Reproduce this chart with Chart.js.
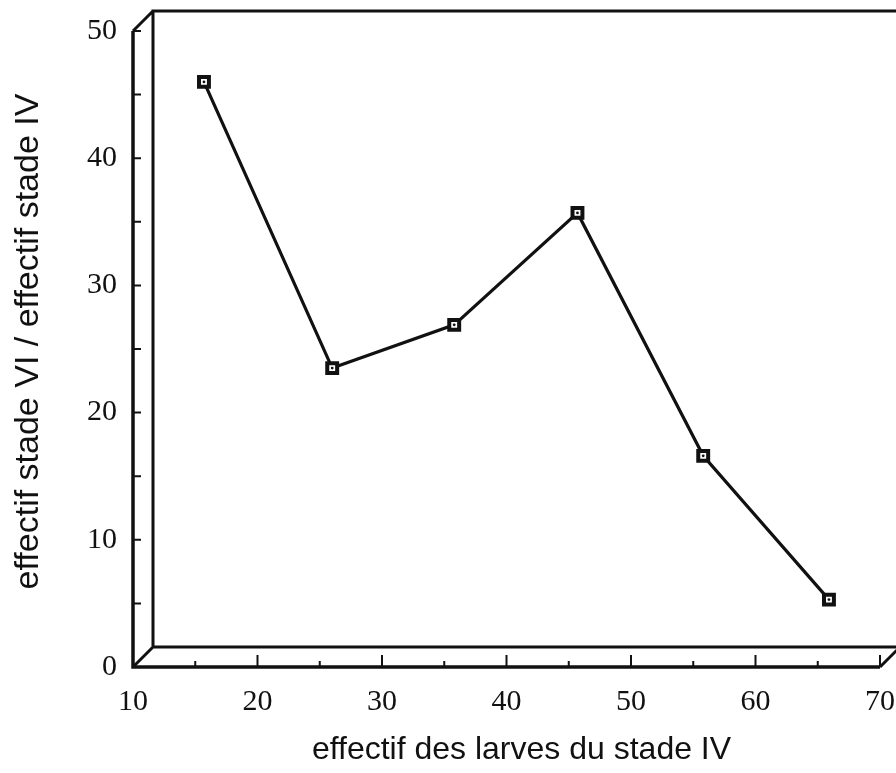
<!DOCTYPE html>
<html>
<head>
<meta charset="utf-8">
<script src="https://cdn.jsdelivr.net/npm/chart.js@4.4.0/dist/chart.umd.min.js"></script>
<style>
  html, body { margin: 0; padding: 0; background: #fff; }
  canvas { display: block; }
</style>
</head>
<body>
<canvas id="c" width="896" height="773"></canvas>
<script>
// Larval counts (stage IV) and the stage VI / stage IV ratio
const larvesIV = [15.7, 26.0, 35.8, 45.7, 55.8, 65.9];
const ratioVIsurIV = [46.0, 23.5, 26.9, 35.7, 16.6, 5.3];
const xTicks = [10, 20, 30, 40, 50, 60, 70];
const yTicks = [0, 10, 20, 30, 40, 50];
const xTitle = 'effectif des larves du stade IV';
const yTitle = 'effectif stade VI / effectif stade IV';

const INK = '#111';
const DEPTH = 20;

const points = larvesIV.map((x, i) => ({ x, y: ratioVIsurIV[i] }));

// midpoints between consecutive major ticks give the minor ticks
const minors = arr => arr.slice(1).map((v, i) => (v + arr[i]) / 2);

// Box frame in pseudo-3D with inward tick marks
const framePlugin = {
  id: 'frame',
  afterLayout(chart) {
    // centre the axis titles on the whole box, depth wall included
    chart.scales.x.right += 30;
    chart.scales.y.bottom -= 15;
  },
  beforeDatasetsDraw(chart) {
    const { ctx, chartArea: { left, right, top, bottom } } = chart;
    const xs = chart.scales.x, ys = chart.scales.y;
    const W = chart.width;
    ctx.save();
    ctx.strokeStyle = INK;
    ctx.lineCap = 'butt';

    // back wall and depth edges
    ctx.lineWidth = 3;
    ctx.beginPath();
    ctx.moveTo(left + DEPTH, bottom - DEPTH);
    ctx.lineTo(left + DEPTH, top - DEPTH);
    ctx.lineTo(W + 5, top - DEPTH);
    ctx.moveTo(left + DEPTH, bottom - DEPTH);
    ctx.lineTo(W + 5, bottom - DEPTH);
    ctx.moveTo(left, top);
    ctx.lineTo(left + DEPTH, top - DEPTH);
    ctx.moveTo(left, bottom);
    ctx.lineTo(left + DEPTH, bottom - DEPTH);
    ctx.moveTo(right, bottom);
    ctx.lineTo(right + DEPTH, bottom - DEPTH);
    ctx.stroke();

    // front axes
    ctx.lineWidth = 3.5;
    ctx.beginPath();
    ctx.moveTo(left, top);
    ctx.lineTo(left, bottom);
    ctx.lineTo(right, bottom);
    ctx.stroke();

    // tick marks pointing into the plot
    ctx.lineWidth = 2;
    ctx.beginPath();
    xTicks.forEach(v => {
      if (v === xTicks[0]) return;
      const px = xs.getPixelForValue(v);
      ctx.moveTo(px, bottom); ctx.lineTo(px, bottom - 12);
    });
    minors(xTicks).forEach(v => {
      const px = xs.getPixelForValue(v);
      ctx.moveTo(px, bottom); ctx.lineTo(px, bottom - 6);
    });
    yTicks.concat(minors(yTicks)).forEach(v => {
      if (v === yTicks[0]) return;
      const py = ys.getPixelForValue(v);
      ctx.moveTo(left, py); ctx.lineTo(left + 8, py);
    });
    ctx.stroke();
    ctx.restore();
  }
};

new Chart(document.getElementById('c'), {
  type: 'scatter',
  data: {
    datasets: [
      {
        // centre dot of each marker
        data: points,
        order: 0,
        showLine: false,
        pointStyle: 'circle',
        pointRadius: 1.4,
        pointBorderWidth: 0,
        pointBackgroundColor: INK,
        clip: false
      },
      {
        data: points,
        order: 1,
        showLine: true,
        tension: 0,
        borderColor: INK,
        borderWidth: 3.2,
        pointStyle: 'rect',
        pointRadius: 7,
        pointBorderWidth: 4,
        pointBorderColor: INK,
        pointBackgroundColor: '#fff',
        clip: false
      }
    ]
  },
  options: {
    responsive: false,
    animation: false,
    devicePixelRatio: 1,
    layout: { padding: { left: 0, right: 16, top: 31, bottom: 0 } },
    plugins: { legend: { display: false }, tooltip: { enabled: false } },
    scales: {
      x: {
        type: 'linear',
        min: xTicks[0],
        max: xTicks[xTicks.length - 1],
        afterBuildTicks: s => { s.ticks = xTicks.map(v => ({ value: v })); },
        afterFit: s => { s.height = 106; s.paddingLeft = 0; s.paddingRight = 0; },
        grid: { display: false, drawTicks: false },
        border: { display: false },
        ticks: {
          padding: 17,
          color: INK,
          maxRotation: 0,
          font: { family: '"Liberation Serif", "Times New Roman", serif', size: 30 }
        },
        title: {
          display: true,
          text: xTitle,
          color: INK,
          padding: { top: 3 },
          font: { family: '"Liberation Sans", Arial, sans-serif', size: 32 }
        }
      },
      y: {
        type: 'linear',
        min: yTicks[0],
        max: yTicks[yTicks.length - 1],
        afterBuildTicks: s => { s.ticks = yTicks.map(v => ({ value: v })); },
        afterFit: s => { s.width = 133; s.paddingTop = 0; s.paddingBottom = 0; },
        grid: { display: false, drawTicks: false },
        border: { display: false },
        ticks: {
          padding: 16,
          color: INK,
          font: { family: '"Liberation Serif", "Times New Roman", serif', size: 30 }
        },
        title: {
          display: true,
          text: yTitle,
          color: INK,
          padding: { top: 8 },
          font: { family: '"Liberation Sans", Arial, sans-serif', size: 34 }
        }
      }
    }
  },
  plugins: [framePlugin]
});
</script>
</body>
</html>
